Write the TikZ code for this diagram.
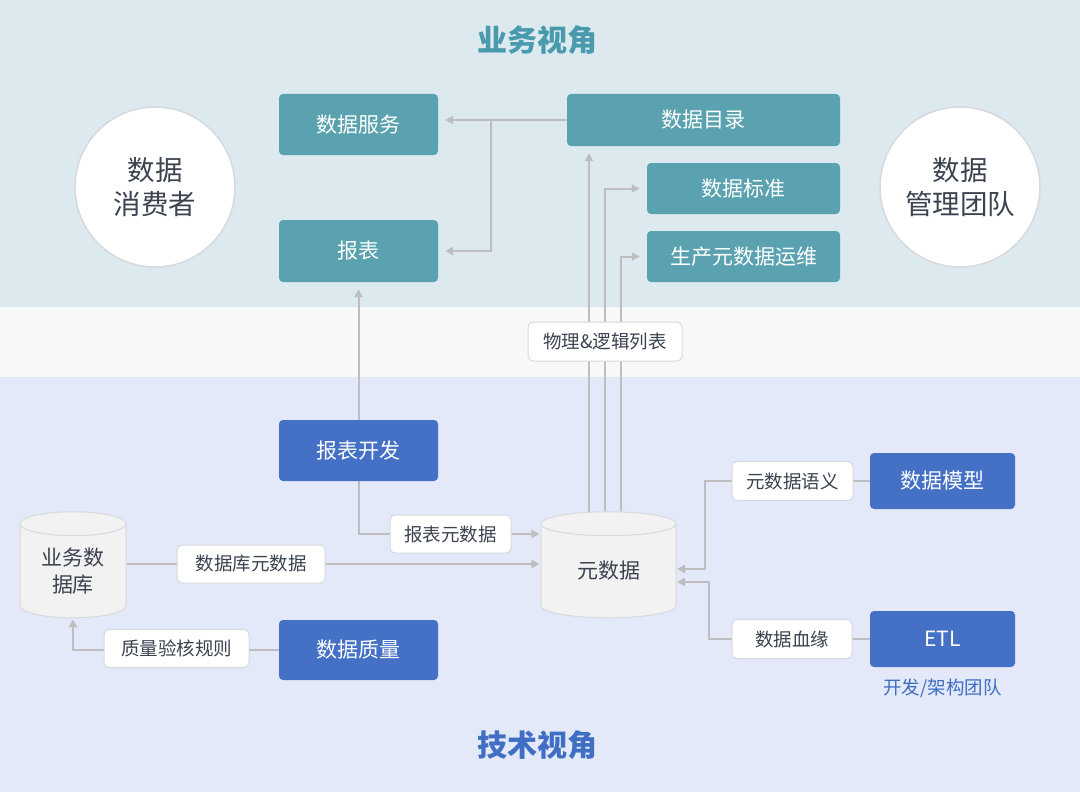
\documentclass[tikz,border=0pt]{standalone}
\usepackage{fontspec}
\setmainfont{Noto Sans CJK SC}
\usetikzlibrary{shapes.geometric,arrows.meta,backgrounds}

\definecolor{bandtop}{HTML}{DCEAF0}
\definecolor{bandmid}{HTML}{F7F8F8}
\definecolor{bandlow}{HTML}{E3E9F8}
\definecolor{tealbg}{HTML}{5AA2AF}
\definecolor{bluebg}{HTML}{4471C5}
\definecolor{tealtitle}{HTML}{4A9AAD}
\definecolor{bluetitle}{HTML}{3F6EC4}
\definecolor{inkdark}{HTML}{3B4250}
\definecolor{linegrey}{HTML}{BEBEC0}
\definecolor{rimgrey}{HTML}{D6D9DD}
\definecolor{dbgrey}{HTML}{F2F2F2}

\begin{document}
\begin{tikzpicture}[x=1pt,y=-1pt,
    tealbox/.style={rectangle, rounded corners=4pt, fill=tealbg, text=white, inner sep=0pt,
      font=\fontsize{21}{25}\selectfont},
    bluebox/.style={tealbox, fill=bluebg},
    tag/.style={rectangle, rounded corners=5pt, fill=white, draw=rimgrey, line width=1pt,
      text=inkdark, inner sep=0pt, font=\fontsize{18.5}{22}\selectfont},
    role/.style={circle, fill=white, draw=rimgrey, line width=1.5pt, minimum size=160,
      text=inkdark, align=center, font=\fontsize{27.5}{34}\selectfont},
    dbase/.style={cylinder, shape border rotate=90, aspect=0.38, fill=dbgrey, draw=rimgrey,
      line width=1pt, inner sep=0pt, text=inkdark, align=center,
      font=\fontsize{21}{27}\selectfont},
    flow/.style={draw=linegrey, line width=2pt, -{Triangle[length=8pt,width=8pt]}, shorten >=7pt},
    flowin/.style={flow, shorten >=1pt},
    link/.style={draw=linegrey, line width=2pt}]

  \useasboundingbox (0,0) rectangle (1080,792);
  \begin{scope}[on background layer]
    \fill[bandtop] (0,0) rectangle (1080,307);
    \fill[bandmid] (0,307) rectangle (1080,377);
    \fill[bandlow] (0,377) rectangle (1080,792);
  \end{scope}

  % titles
  \node[text=tealtitle, font=\fontsize{30}{34}\selectfont\bfseries] (bizview) at (537,40) {业务视角};
  \node[text=bluetitle, font=\fontsize{30}{34}\selectfont\bfseries] (techview) at (537,745) {技术视角};

  % roles
  \node[role] (consumer) at (155,187) {数据\\消费者};
  \node[role] (mgmtteam) at (960,187) {数据\\管理团队};

  % business side
  \node[tealbox, minimum width=159, minimum height=61] (service) at (358.5,124.5) {数据服务};
  \node[tealbox, minimum width=159, minimum height=62] (report) at (358.5,251) {报表};
  \node[tealbox, minimum width=273, minimum height=52] (catalog) at (703.5,120) {数据目录};
  \node[tealbox, minimum width=193, minimum height=51] (standard) at (743.5,188.5) {数据标准};
  \node[tealbox, minimum width=193, minimum height=51] (metaops) at (743.5,256.5) {生产元数据运维};

  % technical side
  \node[bluebox, minimum width=159, minimum height=61] (reportdev) at (358.5,450.5) {报表开发};
  \node[bluebox, minimum width=159, minimum height=60] (quality) at (358.5,650) {数据质量};
  \node[bluebox, minimum width=145, minimum height=56] (model) at (942.5,481) {数据模型};
  \node[bluebox, minimum width=145, minimum height=56] (etl) at (942.5,639) {ETL};
  \node[text=bluetitle, font=\fontsize{18.5}{22}\selectfont] (devteam) at (942.5,688) {开发/架构团队};

  \node[dbase, minimum width=106, minimum height=106] (bizdb) at (73,571) {业务数\\据库};
  \node[dbase, minimum width=135, minimum height=106] (meta) at (608.5,571) {元数据};

  % labels on the links
  \node[tag, minimum width=154, minimum height=39] (tagphys) at (605,341.5) {物理\&逻辑列表};
  \node[tag, minimum width=121, minimum height=38] (tagrep) at (450.5,534) {报表元数据};
  \node[tag, minimum width=148, minimum height=38] (tagdb) at (251,564) {数据库元数据};
  \node[tag, minimum width=145, minimum height=38] (tagqual) at (176.5,648.5) {质量验核规则};
  \node[tag, minimum width=121, minimum height=39] (tagsem) at (792.5,481) {元数据语义};
  \node[tag, minimum width=120, minimum height=39] (taglin) at (792,639) {数据血缘};

  \coordinate (fork) at (491,120);
  \coordinate (up1) at (589,520);
  \coordinate (up2) at (605,520);
  \coordinate (up3) at (621,520);
  \coordinate (semin) at (676,569);
  \coordinate (linin) at (676,582);

  \begin{scope}[on background layer]
    \draw[link] (catalog.west) -- (fork);
    \draw[flow] (fork) -- (service.east |- fork);
    \draw[flow] (fork) |- (report.east);
    \draw[flow] (up1) -- (up1 |- catalog.south);
    \draw[flow] (up2) |- (standard.west);
    \draw[flow] (up3) |- (metaops.west);
    \draw[flow] (reportdev.north) -- (report.south);
    \draw[flowin] (reportdev.south) |- (meta.west |- tagrep);
    \draw[flowin] (bizdb.east |- tagdb) -- (meta.west |- tagdb);
    \draw[flowin] (quality.west) -| (bizdb.south);
    \draw[flowin] (model.west) -- (705,481) |- (semin);
    \draw[flowin] (etl.west) -- (709,639) |- (linin);
  \end{scope}
\end{tikzpicture}
\end{document}
